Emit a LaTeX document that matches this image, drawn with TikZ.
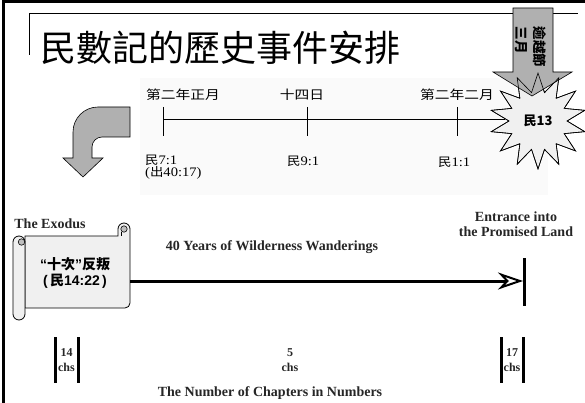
\documentclass[tikz,border=0pt]{standalone}
\usepackage{fontspec}
\setmainfont{Liberation Serif}
\newfontfamily\cjk{Noto Sans CJK TC}
\newfontfamily\sans{Liberation Sans}
\usetikzlibrary{shapes.geometric,arrows.meta}
\definecolor{arrowgray}{HTML}{B0B0B0}
\definecolor{scrollfill}{HTML}{F0F0F0}
\definecolor{engtext}{HTML}{262626}
\begin{document}
\begin{tikzpicture}[x=1pt,y=-1pt,
  toplbl/.style={inner sep=0pt, font=\cjk\fontsize{12.5}{15}\selectfont},
  reflbl/.style={inner sep=0pt, anchor=west, font=\fontsize{13}{13}\selectfont},
  eng/.style={inner sep=0pt, text=engtext, font=\bfseries\fontsize{14}{15}\selectfont},
  chs/.style={inner sep=0pt, align=center, text=engtext, font=\bfseries\fontsize{12}{15}\selectfont},
  thinline/.style={line width=1pt},
  thickline/.style={line width=3pt},
  grayarrow/.style={fill=arrowgray, draw=black, line width=0.6pt},
  burststyle/.style={star, star points=14, star point ratio=1.65, minimum size=96pt, inner sep=0pt, draw=black, line width=0.6pt}
]
\useasboundingbox (0,0) rectangle (585,403);
% frame
\draw[line width=3pt] (3.5,403) -- (3.5,1.5) -- (585,1.5);
% title
\draw[thinline] (29,55) -- (29,14) -- (578,14);
\node[inner sep=0pt, anchor=west, font=\cjk\fontsize{36}{40}\selectfont] (title) at (40,48) {民數記的歷史事件安排};
% faint background of the timeline picture
\fill[black!2] (140,78) rectangle (548,195);
% timeline
\coordinate (t1) at (163,120);
\coordinate (t2) at (307,120);
\coordinate (t3) at (457,120);
\coordinate (tend) at (505,120);
\draw[thinline] (t1) -- (tend);
\draw[thinline] (t1) +(0,-13) -- +(0,16);
\draw[thinline] (t2) +(0,-13) -- +(0,16);
\draw[thinline] (t3) +(0,-13) -- +(0,16);
\node[toplbl] (l1) at (183,95) {\scalebox{1.18}[1]{第二年正月}};
\node[toplbl] (l2) at (302,95) {\scalebox{1.18}[1]{十四日}};
\node[toplbl] (l3) at (457,95) {\scalebox{1.18}[1]{第二年二月}};
\node[reflbl] (r1) at (145,160) {\scalebox{1.12}[1]{{\cjk\fontsize{12}{13}\selectfont 民}7:1}};
\node[reflbl] (r1b) at (145,173) {\scalebox{1.12}[1]{({\cjk\fontsize{12}{13}\selectfont 出}40:17)}};
\node[reflbl] (r2) at (287,161) {\scalebox{1.12}[1]{{\cjk\fontsize{12}{13}\selectfont 民}9:1}};
\node[reflbl] (r3) at (438,162) {\scalebox{1.12}[1]{{\cjk\fontsize{12}{13}\selectfont 民}1:1}};
% burst
\node[burststyle, fill=scrollfill, font=\cjk\bfseries\fontsize{13}{15}\selectfont] (burst) at (538,121) {民13};
% down arrow
\path[grayarrow] (513,8) -- (553,8) -- (553,72) -- (572,72) -- (532,96) -- (493,72) -- (513,72) -- cycle;
\node[burststyle, fill=none] (burstline) at (burst.center) {};
\node[inner sep=0pt, rotate=-90, align=left, font=\cjk\bfseries\fontsize{13.5}{18}\selectfont] (pasch) at (531,47) {逾越節\\三月};
% curved arrow
\path[grayarrow] (130,107) -- (98,107) .. controls (84.2,107) and (73,118.2) .. (73,132) -- (73,158) -- (63,158) -- (83,177) -- (103,158) -- (92,158) -- (92,147) .. controls (92,141.5) and (96.5,137) .. (102,137) -- (130,137) -- cycle;
% scroll
\filldraw[fill=scrollfill, draw=black, line width=0.8pt] (25,236) -- (118,236) -- (118,229) arc(180:360:6) -- (130,303) arc(0:90:5) -- (25,308) -- cycle;
\filldraw[fill=black!25, draw=black, line width=0.6pt] (124,229) circle (3.2);
\draw[line width=0.6pt] (121,232) -- (121,236);
\filldraw[fill=scrollfill, draw=black, line width=0.8pt] (13,242) -- (13,314) arc(180:0:6) -- (25,242) arc(0:-180:6) -- cycle;
\filldraw[fill=black!25, draw=black, line width=0.6pt] (21.5,242) circle (3.2);
\node[inner sep=0pt, align=center, font=\cjk\bfseries\fontsize{14}{16}\selectfont] (scroll) at (75,272.5) {{\sans\bfseries “}十次{\sans\bfseries ”}反叛\\{\sans\bfseries (\,}民{\sans\bfseries 14:22\,)}};
\node[eng] (exodus) at (50,224) {The Exodus};
% main line
\coordinate (ls) at (130,281);
\coordinate (le) at (523,281);
\coordinate (barTop) at (524.5,258);
\coordinate (barBot) at (524.5,306);
\draw[thickline, -{Stealth[open, length=25pt, width=17pt, inset=8pt, line width=2pt]}] (ls) -- (le);
\draw[thickline] (barTop) -- (barBot);
\node[eng] (years) at (272,247) {40 Years of Wilderness Wanderings};
\node[eng, align=center] (entrance) at (516,224.5) {Entrance into\\the Promised Land};
% chapter counts
\coordinate (a1) at (55,337); \coordinate (a2) at (55,383);
\coordinate (b1) at (78,337); \coordinate (b2) at (78,383);
\coordinate (c1) at (501,337); \coordinate (c2) at (501,383);
\coordinate (d1) at (523,337); \coordinate (d2) at (523,383);
\draw[thickline] (a1) -- (a2);
\draw[thickline] (b1) -- (b2);
\draw[thickline] (c1) -- (c2);
\draw[thickline] (d1) -- (d2);
\node[chs] (n14) at (66.5,360) {14\\chs};
\node[chs] (n5) at (290,360) {5\\chs};
\node[chs] (n17) at (512,360) {17\\chs};
\node[eng] (numbers) at (270,393) {The Number of Chapters in Numbers};
\end{tikzpicture}
\end{document}
